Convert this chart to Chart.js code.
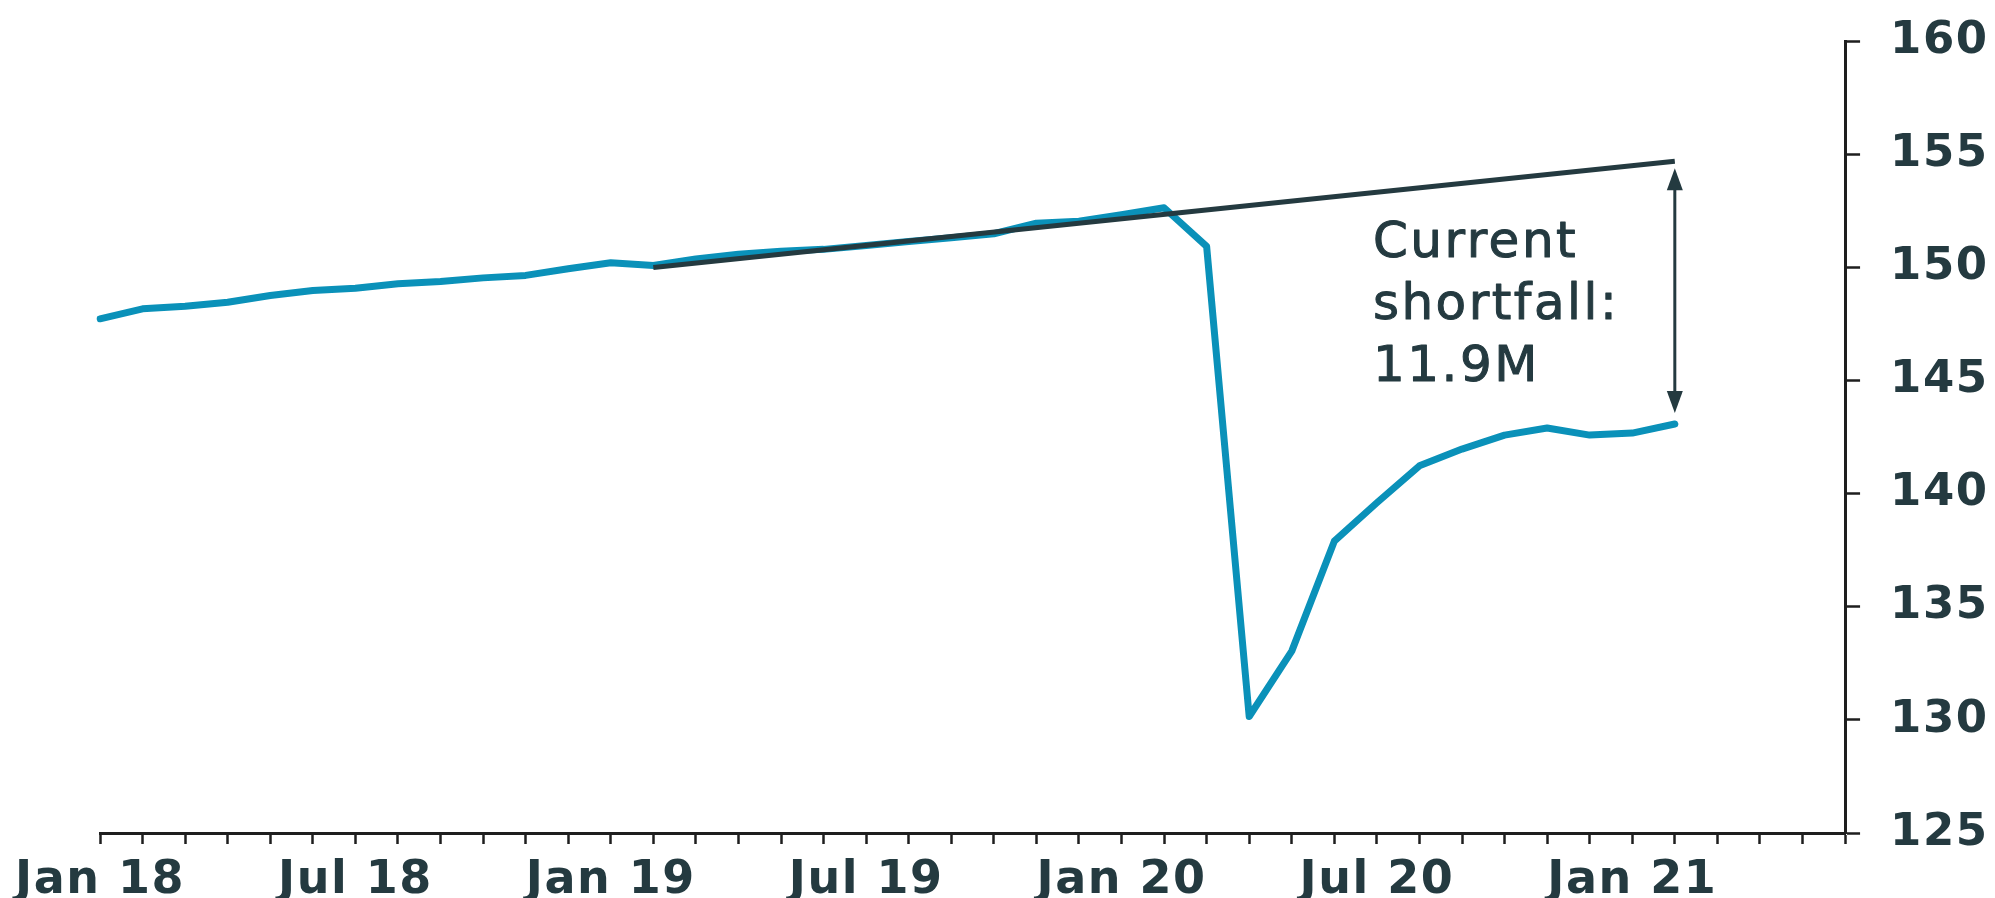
<!DOCTYPE html>
<html lang="en">
<head>
    <meta charset="UTF-8">
    <title>Employment shortfall</title>
    <script src="https://cdn.jsdelivr.net/npm/chart.js"></script>
    <style>
        body { margin: 0; background: #fff; }
        #wrap { width: 1995px; height: 898px; }
    </style>
</head>
<body>
    <div id="wrap"><canvas id="jobsChart"></canvas></div>
    <script>
        // oylar: Jan 18 .. Jun 21
        const months = ['Jan 18','Feb 18','Mar 18','Apr 18','May 18','Jun 18','Jul 18','Aug 18','Sep 18','Oct 18','Nov 18','Dec 18',
            'Jan 19','Feb 19','Mar 19','Apr 19','May 19','Jun 19','Jul 19','Aug 19','Sep 19','Oct 19','Nov 19','Dec 19',
            'Jan 20','Feb 20','Mar 20','Apr 20','May 20','Jun 20','Jul 20','Aug 20','Sep 20','Oct 20','Nov 20','Dec 20',
            'Jan 21','Feb 21','Mar 21','Apr 21','May 21','Jun 21'];

        // ish bilan bandlik (mln)
        const employment = [147.73, 148.17, 148.29, 148.46, 148.76, 148.98, 149.08, 149.28, 149.38, 149.54, 149.65, 149.94,
            150.21, 150.09, 150.38, 150.58, 150.72, 150.80, 150.97, 151.15, 151.31, 151.49, 151.96, 152.04,
            152.33, 152.64, 150.93, 130.15, 133.04, 137.90, 139.60, 141.23, 141.97, 142.59, 142.90, 142.59,
            142.68, 143.08];

        // trend chizig'i (boshi va oxiri)
        const trendMonths = ['Feb 19', 'Feb 21'];
        const trendValues = [150.0, 154.7];

        const yTicks = [125, 130, 135, 140, 145, 150, 155, 160];
        const shortfallText = ['Current', 'shortfall:', '11.9M'];

        const BLUE = '#0a91b9';
        const DARK = '#243a40';
        const AXIS = '#1e1e1e';

        const letterSpace = {
            id: 'letterSpace',
            beforeInit(chart) { chart.ctx.letterSpacing = '1.5px'; },
            beforeDraw(chart) { chart.ctx.letterSpacing = '1.5px'; }
        };

        const shortfall = {
            id: 'shortfall',
            afterDatasetsDraw(chart) {
                const ctx = chart.ctx;
                const x = chart.scales.x;
                const y = chart.scales.y;
                const ax = x.getPixelForValue(months.indexOf('Feb 21'));
                const top = y.getPixelForValue(trendValues[1]) + 7;
                const bottom = y.getPixelForValue(employment[employment.length - 1]) - 11;
                ctx.save();
                ctx.letterSpacing = '0px';
                ctx.strokeStyle = DARK;
                ctx.fillStyle = DARK;
                ctx.lineWidth = 3;
                ctx.beginPath();
                ctx.moveTo(ax, top + 12);
                ctx.lineTo(ax, bottom - 12);
                ctx.stroke();
                // strelkalar
                ctx.beginPath();
                ctx.moveTo(ax, top); ctx.lineTo(ax - 8, top + 22); ctx.lineTo(ax + 8, top + 22); ctx.closePath();
                ctx.fill();
                ctx.beginPath();
                ctx.moveTo(ax, bottom); ctx.lineTo(ax - 8, bottom - 22); ctx.lineTo(ax + 8, bottom - 22); ctx.closePath();
                ctx.fill();

                // matn
                ctx.letterSpacing = '2.5px';
                ctx.font = '50px "DejaVu Sans"';
                ctx.textAlign = 'left';
                ctx.textBaseline = 'alphabetic';
                ctx.lineWidth = 1;
                ctx.lineJoin = 'round';
                const tx = x.getPixelForValue(months.indexOf('Jul 20')) - 4;
                let ty = y.getPixelForValue(150.45);
                shortfallText.forEach(line => {
                    ctx.fillText(line, tx, ty);
                    ctx.strokeText(line, tx, ty);
                    ty += 62;
                });
                ctx.restore();
            }
        };

        new Chart(document.getElementById('jobsChart'), {
            type: 'line',
            data: {
                labels: months,
                datasets: [{
                    label: 'Employment',
                    data: employment,
                    borderColor: BLUE,
                    borderWidth: 7,
                    borderCapStyle: 'round',
                    borderJoinStyle: 'round',
                    pointRadius: 0,
                    tension: 0,
                    fill: false,
                    order: 2
                }, {
                    label: 'Trend',
                    data: trendMonths.map((m, i) => ({ x: m, y: trendValues[i] })),
                    borderColor: DARK,
                    borderWidth: 5,
                    pointRadius: 0,
                    tension: 0,
                    fill: false,
                    order: 1
                }]
            },
            options: {
                responsive: true,
                maintainAspectRatio: false,
                animation: false,
                layout: { padding: { top: 0, left: 100, right: -19, bottom: -20 } },
                plugins: {
                    legend: { display: false },
                    tooltip: { enabled: false }
                },
                scales: {
                    x: {
                        type: 'category',
                        offset: false,
                        border: { display: true, color: AXIS, width: 3 },
                        grid: { drawOnChartArea: false, drawTicks: true, tickLength: 11, tickWidth: 2.5, tickColor: AXIS },
                        ticks: {
                            autoSkip: false,
                            maxRotation: 0,
                            padding: 14,
                            color: DARK,
                            font: { family: 'DejaVu Sans', weight: 'bold', size: 46, lineHeight: 1.0 },
                            callback: function (val, i) {
                                const m = months[i];
                                return (m.startsWith('Jan') || m.startsWith('Jul')) ? m : '';
                            }
                        }
                    },
                    y: {
                        position: 'right',
                        min: yTicks[0],
                        max: yTicks[yTicks.length - 1],
                        afterBuildTicks: axis => { axis.ticks = yTicks.map(v => ({ value: v })); },
                        border: { display: true, color: AXIS, width: 3 },
                        grid: { drawOnChartArea: false, drawTicks: true, tickLength: 15, tickWidth: 2.5, tickColor: AXIS },
                        ticks: {
                            padding: 30,
                            color: DARK,
                            font: { family: 'DejaVu Sans', weight: 'bold', size: 45, lineHeight: 0.5 }
                        }
                    }
                }
            },
            plugins: [letterSpace, shortfall]
        });
    </script>
</body>
</html>
